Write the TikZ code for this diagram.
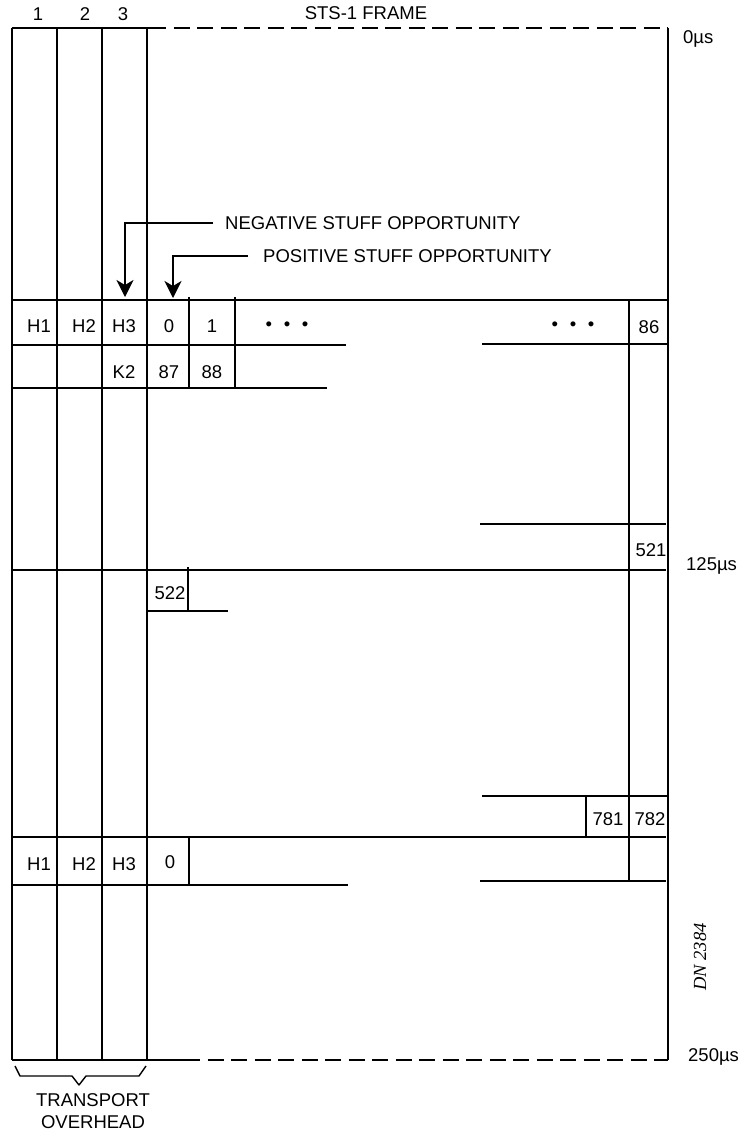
\documentclass[tikz,border=0pt]{standalone}
\usepackage{fontspec}
\setmainfont{Liberation Sans}
\newfontfamily\dnfont{Liberation Serif}
\usetikzlibrary{arrows.meta}
\begin{document}
\begin{tikzpicture}[x=1pt,y=-1pt,
  ln/.style={line width=1.8pt},
  dl/.style={line width=1.8pt,dash pattern=on 16pt off 7.5pt},
  lbl/.style={inner sep=0pt,font=\fontsize{18.5}{21}\selectfont},
  arr/.style={line width=1.8pt,-{Stealth[length=17pt,width=17pt,inset=5pt]}}]
\useasboundingbox (0,0) rectangle (741,1138);
% frame
\draw[ln] (12,28) -- (150,28);
\draw[dl] (150,28) -- (668,28);
\draw[ln] (668,28) -- (668,1060);
\foreach \x in {12,57,102,147} \draw[ln] (\x,28) -- (\x,1060);
\draw[ln] (12,1060) -- (184,1060);
\draw[dl] (184,1060) -- (668,1060);
% first row
\draw[ln] (12,300) -- (668,300);
\draw[ln] (12,345) -- (346,345);
\draw[ln] (482,344) -- (668,344);
\draw[ln] (12,388) -- (327,388);
\draw[ln] (189,297) -- (189,388);
\draw[ln] (235,297) -- (235,388);
\draw[ln] (629,300) -- (629,880);
% 521 / 522
\draw[ln] (480,524) -- (666,524);
\draw[ln] (12,570) -- (666,570);
\draw[ln] (188,567) -- (188,611);
\draw[ln] (147,611) -- (228,611);
% 781 / 782
\draw[ln] (482,796) -- (668,796);
\draw[ln] (586,796) -- (586,837);
\draw[ln] (12,837) -- (666,837);
% next frame row
\draw[ln] (189,836) -- (189,885);
\draw[ln] (12,885) -- (348,885);
\draw[ln] (480,881) -- (666,881);
% headings
\node[lbl] (c1) at (38,14) {1};
\node[lbl] (c2) at (85,14) {2};
\node[lbl] (c3) at (123,14) {3};
\node[lbl] (title) at (366,13) {STS-1 FRAME};
\node[lbl,anchor=west] (t0) at (683,39) {0µs};
\node[lbl,anchor=west] (t125) at (686,566) {125µs};
\node[lbl,anchor=west] (t250) at (688,1057) {250µs};
% arrows
\node[lbl,anchor=west] (neg) at (225,223) {NEGATIVE STUFF OPPORTUNITY};
\node[lbl,anchor=west] (pos) at (263,256) {POSITIVE STUFF OPPORTUNITY};
\coordinate (negend) at (125,297);
\coordinate (posend) at (173,298);
\draw[arr] (neg.west) ++(-12,0) -| (negend);
\draw[arr] (pos.west) ++(-15,0) -| (posend);
% row texts
\node[lbl] (h1) at (39,326) {H1};
\node[lbl] (h2) at (84,326) {H2};
\node[lbl] (h3) at (124,326) {H3};
\node[lbl] (b0) at (169,326) {0};
\node[lbl] (b1) at (212,326) {1};
\node[lbl] (d1) at (287,326) {•\hspace{11.7pt}•\hspace{11.7pt}•};
\node[lbl] (d2) at (573,326) {•\hspace{11.7pt}•\hspace{11.7pt}•};
\node[lbl] (b86) at (649,327) {86};
\node[lbl] (k2) at (124,372) {K2};
\node[lbl] (b87) at (169,372) {87};
\node[lbl] (b88) at (212,372) {88};
\node[lbl] (b521) at (651,550) {521};
\node[lbl] (b522) at (170,593) {522};
\node[lbl] (b781) at (608,819) {781};
\node[lbl] (b782) at (650,819) {782};
\node[lbl] (h1b) at (39,864) {H1};
\node[lbl] (h2b) at (84,864) {H2};
\node[lbl] (h3b) at (124,864) {H3};
\node[lbl] (b0b) at (170,862) {0};
% DN label
\node[inner sep=0pt,rotate=90,font=\dnfont\itshape\fontsize{18.5}{21}\selectfont] (dn) at (700,957) {DN 2384};
% brace
\draw[line width=1.4pt,line join=round] (15,1066) -- (20,1076) -- (72,1076) -- (79,1085) -- (86,1076) -- (139,1076) -- (146,1066);
\node[lbl] (tr) at (93,1100) {TRANSPORT};
\node[lbl] (ov) at (93,1122) {OVERHEAD};
\end{tikzpicture}
\end{document}
